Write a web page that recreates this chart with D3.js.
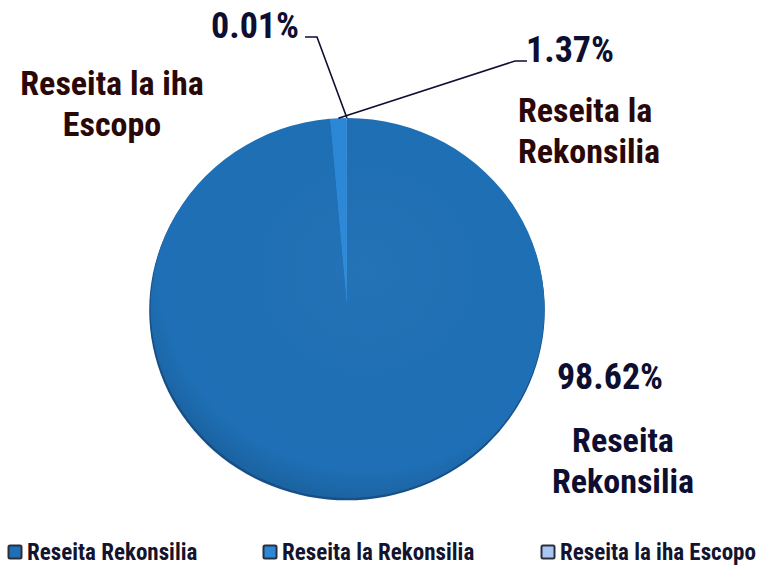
<!DOCTYPE html>
<html>
<head>
<meta charset="utf-8">
<script src="https://cdn.jsdelivr.net/npm/d3@7"></script>
<style>
	body { margin: 0; background: #fff; }
	text { font-family: 'Liberation Sans Narrow', 'Roboto Condensed', 'Arial Narrow', sans-serif; font-weight: bold; }
</style>
</head>
<body>
<div id="chart"></div>
<script>
// chart data
const categories = ['Reseita Rekonsilia', 'Reseita la Rekonsilia', 'Reseita la iha Escopo'];
const values = [98.62, 1.37, 0.01];
const labelTexts = ['98.62%', '1.37%', '0.01%'];

const colors = ['#1e6fb5', '#2a88d8', '#a9c6f2'];

const width = 769;
const height = 566;
const cx = 347, cy = 308;
const rx = 197, ry = 190;

const svg = d3
	.select('#chart')
	.append('svg')
	.attr('width', width)
	.attr('height', height);

const defs = svg.append('defs');
const grad = defs.append('radialGradient').attr('id', 'pieShade').attr('cx', '55%').attr('cy', '40%').attr('r', '60%');
grad.append('stop').attr('offset', '0%').attr('stop-color', '#fff').attr('stop-opacity', 0.03);
grad.append('stop').attr('offset', '88%').attr('stop-color', '#000').attr('stop-opacity', 0);
grad.append('stop').attr('offset', '100%').attr('stop-color', '#000').attr('stop-opacity', 0.1);

// pie is drawn as a circle of radius 1 scaled into an ellipse
const pieG = svg.append('g').attr('transform', 'translate(' + cx + ',' + cy + ') scale(' + rx + ',' + ry + ')');

const pie = d3.pie().sort(null).value((d) => d.value);
const arcs = pie(categories.map((c, i) => ({ name: c, value: values[i] })));
const arc = d3.arc().innerRadius(0).outerRadius(1);

// darker rim behind for a little depth
pieG.append('ellipse')
	.attr('cx', 0)
	.attr('cy', 0.012)
	.attr('rx', 1.004)
	.attr('ry', 1.0)
	.style('fill', '#174f86');

pieG.selectAll('path.slice')
	.data(arcs)
	.enter()
	.append('path')
	.attr('class', 'slice')
	.attr('d', arc)
	.style('fill', (d, i) => colors[i]);

pieG.append('circle')
	.attr('r', 1)
	.style('fill', 'url(#pieShade)');

// label layout (positions only)
const pctColor = '#0e0e30';
const nameColor = '#2a0808';

// point on the rim at the middle of a slice
const rimPoint = (d) => {
	const a = (d.startAngle + d.endAngle) / 2;
	return [cx + rx * Math.sin(a), cy - ry * Math.cos(a)];
};

// leader lines for the two small slices
const leaders = [
	null,
	{ elbow: [527, 61], end: [515, 61] },
	{ elbow: [305, 37], end: [317, 37] }
];
leaders.forEach((l, i) => {
	if (!l) return;
	const p = rimPoint(arcs[i]);
	svg.append('polyline')
		.attr('points', [l.elbow, l.end, p].map((q) => q.join(',')).join(' '))
		.style('fill', 'none')
		.style('stroke', '#0e0e30')
		.style('stroke-width', 1.6);
});

// percentage labels
const pctPos = [[610, 389, 'middle'], [570, 62, 'middle'], [255, 38, 'middle']];
svg.selectAll('text.pct')
	.data(labelTexts)
	.enter()
	.append('text')
	.attr('class', 'pct')
	.attr('x', (d, i) => pctPos[i][0])
	.attr('y', (d, i) => pctPos[i][1])
	.attr('text-anchor', (d, i) => pctPos[i][2])
	.style('font-size', '36px')
	.style('fill', pctColor)
	.text((d) => d);

// category labels (wrapped in two lines)
const nameLines = [['Reseita', 'Rekonsilia'], ['Reseita la', 'Rekonsilia'], ['Reseita la iha', 'Escopo']];
const namePos = [[623, 452, 'middle', pctColor], [518, 122, 'start', nameColor], [112, 95, 'middle', nameColor]];
nameLines.forEach((lines, i) => {
	const t = svg.append('text')
		.attr('x', namePos[i][0])
		.attr('y', namePos[i][1])
		.attr('text-anchor', namePos[i][2])
		.style('font-size', '34px')
		.style('fill', namePos[i][3]);
	lines.forEach((ln, j) => {
		t.append('tspan')
			.attr('x', namePos[i][0])
			.attr('dy', j === 0 ? 0 : 41)
			.text(ln);
	});
});

// legend
const legendX = [8, 263, 541];
const legend = svg.selectAll('g.legend')
	.data(categories)
	.enter()
	.append('g')
	.attr('class', 'legend')
	.attr('transform', (d, i) => 'translate(' + legendX[i] + ',545)');

legend.append('rect')
	.attr('x', 0.5)
	.attr('y', 0.5)
	.attr('width', 13)
	.attr('height', 13)
	.attr('rx', 1.5)
	.style('fill', (d, i) => colors[i])
	.style('stroke', '#2b2f3a')
	.style('stroke-width', 2);

legend.append('text')
	.attr('x', 19)
	.attr('y', 15)
	.style('font-size', '23px')
	.style('fill', '#14142e')
	.text((d) => d);
</script>
</body>
</html>
